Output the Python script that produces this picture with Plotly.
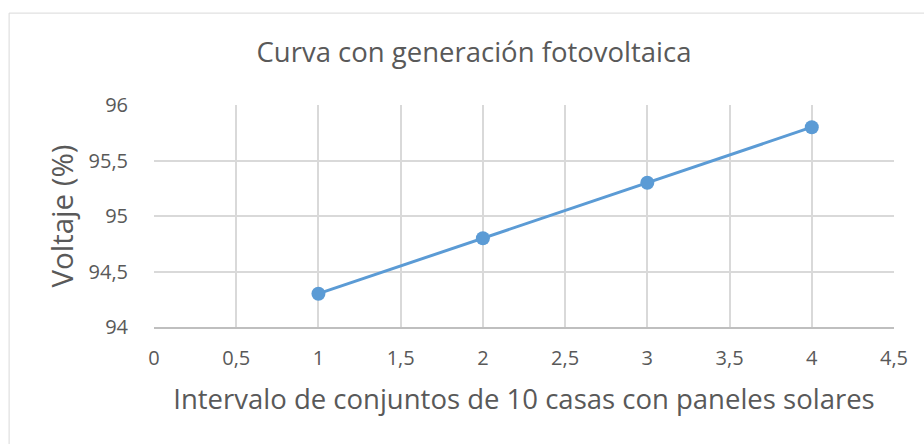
import plotly.graph_objects as go

# Data
intervalos = [1, 2, 3, 4]
voltaje = [94.3, 94.8, 95.3, 95.8]

x_ticks = [0, 0.5, 1, 1.5, 2, 2.5, 3, 3.5, 4, 4.5]
x_labels = ["0", "0,5", "1", "1,5", "2", "2,5", "3", "3,5", "4", "4,5"]
y_ticks = [94, 94.5, 95, 95.5, 96]
y_labels = ["94", "94,5", "95", "95,5", "96"]

FONT = "Open Sans"
TEXT = "#595959"
GRID = "#D9D9D9"
LINE = "#5B9BD5"

W, H = 924, 444
ML, MR, MT, MB = 153.5, 30, 104.5, 117.2

fig = go.Figure()
fig.add_trace(go.Scatter(
    x=intervalos, y=voltaje, mode="lines+markers",
    line=dict(color=LINE, width=3),
    marker=dict(color=LINE, size=14),
    showlegend=False, hoverinfo="x+y",
))

pw = W - ML - MR
ph = H - MT - MB


def px_x(p):
    return (p - ML) / pw


def px_y(p):
    return (H - MB - p) / ph


# Chart frame
fig.add_shape(type="rect", xref="paper", yref="paper",
              x0=px_x(8.5), x1=px_x(W + 10), y0=px_y(H + 10), y1=px_y(12.5),
              line=dict(color=GRID, width=1), fillcolor="rgba(0,0,0,0)", layer="below")

fig.update_layout(
    width=W, height=H,
    margin=dict(l=ML, r=MR, t=MT, b=MB, pad=0),
    paper_bgcolor="white", plot_bgcolor="white",
    font=dict(family=FONT, color=TEXT),
    title=dict(text="Curva con generación fotovoltaica",
               font=dict(size=27.5, color=TEXT, family=FONT),
               x=474 / W, xanchor="center", y=1 - 52.5 / H, yanchor="middle"),
    xaxis=dict(range=[0, 4.5], tickmode="array", tickvals=x_ticks, ticktext=x_labels,
               showgrid=True, gridcolor=GRID, gridwidth=1.5,
               showline=True, linecolor="#BFBFBF", linewidth=1.5,
               zeroline=False, ticks="outside", ticklen=12, tickcolor="rgba(0,0,0,0)",
               tickfont=dict(size=20, color=TEXT),
               title=dict(text="Intervalo de conjuntos de 10 casas con paneles solares",
                          font=dict(size=27.5, color=TEXT), standoff=20)),
    yaxis=dict(range=[94, 96], tickmode="array", tickvals=y_ticks, ticktext=y_labels,
               showgrid=True, gridcolor=GRID, gridwidth=1.5,
               showline=False, zeroline=False,
               ticks="outside", ticklen=21, tickcolor="rgba(0,0,0,0)",
               tickfont=dict(size=20, color=TEXT),
               title=dict(text="Voltaje (%)", font=dict(size=29.5, color=TEXT), standoff=6)),
)
fig.write_html("out.html")
